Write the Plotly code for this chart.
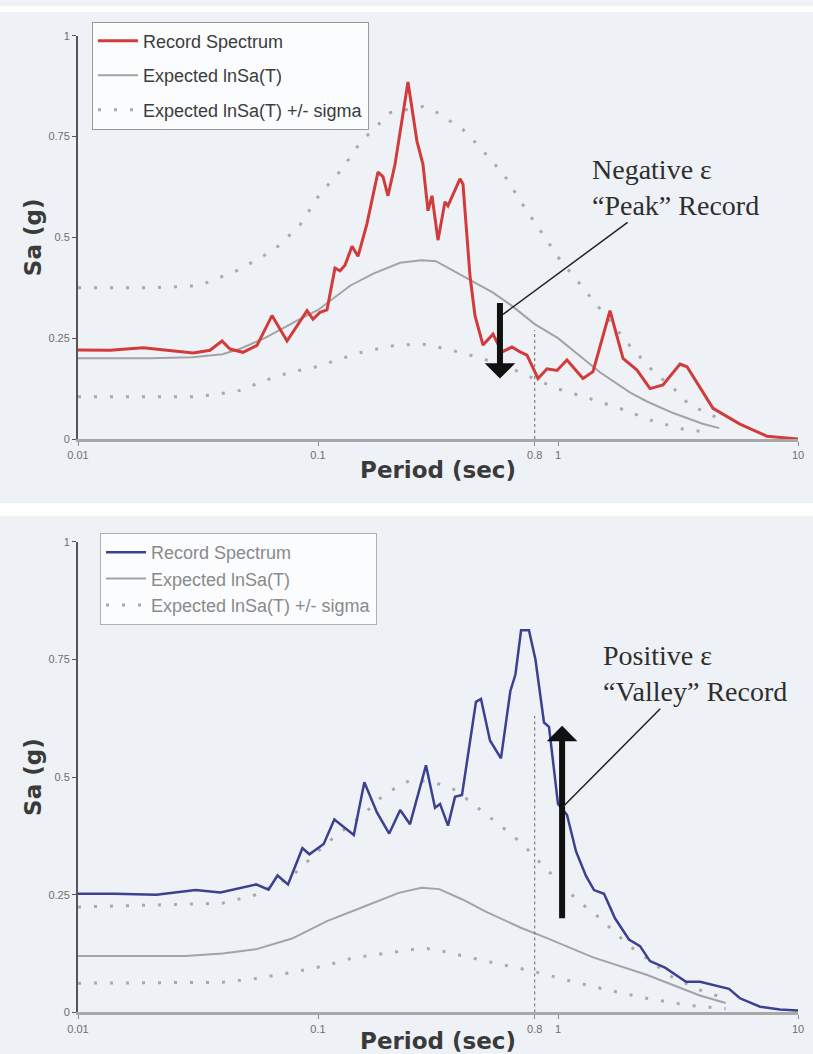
import math
import plotly.graph_objects as go

# ---------------- data ----------------
# Top panel: negative-epsilon "peak" record
top_rec_T = [0.01, 0.0136, 0.0187, 0.0249, 0.0302, 0.0355, 0.0398, 0.043, 0.0487, 0.0557,
             0.0643, 0.0743, 0.09, 0.0953, 0.1019, 0.109, 0.1177, 0.1235, 0.1296, 0.1386,
             0.1468, 0.16, 0.1778, 0.1866, 0.1957, 0.2094, 0.2371, 0.2585, 0.2738, 0.2873,
             0.2985, 0.3162, 0.3382, 0.348, 0.3905, 0.4019, 0.4299, 0.451, 0.487, 0.536,
             0.5843, 0.643, 0.6946, 0.7427, 0.8254, 0.9, 0.9904, 1.09, 1.271, 1.399,
             1.647, 1.866, 2.134, 2.418, 2.738, 3.224, 3.448, 4.424, 5.731, 7.425, 9.532, 10.0]
top_rec_sa = [0.221, 0.220, 0.226, 0.218, 0.213, 0.220, 0.243, 0.223, 0.215, 0.232,
              0.306, 0.243, 0.318, 0.297, 0.314, 0.320, 0.424, 0.417, 0.431, 0.478,
              0.453, 0.534, 0.662, 0.650, 0.603, 0.681, 0.885, 0.738, 0.681, 0.566,
              0.603, 0.493, 0.588, 0.578, 0.645, 0.632, 0.404, 0.306, 0.233, 0.260,
              0.216, 0.228, 0.216, 0.208, 0.150, 0.174, 0.170, 0.196, 0.150, 0.167,
              0.318, 0.200, 0.171, 0.125, 0.134, 0.186, 0.179, 0.076, 0.037, 0.007, 0.001, 0.0]

top_med_T = [0.01, 0.02, 0.03, 0.04, 0.047, 0.06, 0.084, 0.1, 0.136, 0.17, 0.22, 0.27, 0.31,
             0.4, 0.536, 0.643, 0.8, 1.0, 1.36, 1.5, 2.0, 2.35, 3.0, 4.0, 4.7]
top_med_sa = [0.200, 0.200, 0.203, 0.210, 0.223, 0.250, 0.297, 0.320, 0.380, 0.410, 0.437, 0.443, 0.441,
              0.404, 0.363, 0.330, 0.285, 0.250, 0.184, 0.165, 0.115, 0.093, 0.065, 0.038, 0.027]

top_up_T = [0.01, 0.02, 0.032, 0.047, 0.066, 0.084, 0.102, 0.124, 0.15, 0.2, 0.274, 0.312,
            0.402, 0.47, 0.536, 0.6, 0.71, 0.79, 0.9, 1.02, 1.16, 1.32, 1.5, 1.98, 2.5, 3.13,
            3.5, 4.3, 4.7]
top_up_sa = [0.375, 0.375, 0.380, 0.420, 0.470, 0.530, 0.608, 0.664, 0.735, 0.809, 0.824, 0.810,
             0.767, 0.725, 0.686, 0.652, 0.583, 0.542, 0.493, 0.444, 0.404, 0.363, 0.320, 0.233, 0.167, 0.118,
             0.086, 0.060, 0.050]

top_lo_T = [0.01, 0.03, 0.037, 0.047, 0.06, 0.076, 0.1, 0.124, 0.154, 0.213, 0.274, 0.345,
            0.43, 0.536, 0.643, 0.99, 1.36, 1.87, 2.5, 3.3, 4.4]
top_lo_sa = [0.105, 0.105, 0.110, 0.120, 0.145, 0.165, 0.180, 0.199, 0.216, 0.233, 0.235, 0.223,
             0.208, 0.191, 0.174, 0.125, 0.100, 0.073, 0.044, 0.025, 0.015]

# Bottom panel: positive-epsilon "valley" record
bot_rec_T = [0.01, 0.0141, 0.0212, 0.0309, 0.0392, 0.0481, 0.0552, 0.0622, 0.0678, 0.075,
             0.0861, 0.0921, 0.1056, 0.117, 0.141, 0.156, 0.176, 0.198, 0.22, 0.2417,
             0.2818, 0.3073, 0.3225, 0.3481, 0.3723, 0.3981, 0.4552, 0.4776, 0.5208, 0.5786,
             0.6331, 0.6647, 0.7017, 0.7568, 0.8054, 0.8743, 0.9173, 1.0, 1.09, 1.189,
             1.308, 1.413, 1.555, 1.728, 1.976, 2.197, 2.417, 2.792, 3.415, 3.906,
             4.642, 5.158, 5.73, 6.95, 8.4, 10.0]
bot_rec_sa = [0.252, 0.252, 0.250, 0.260, 0.255, 0.265, 0.272, 0.261, 0.291, 0.272,
              0.349, 0.336, 0.358, 0.410, 0.377, 0.489, 0.425, 0.380, 0.430, 0.400,
              0.525, 0.435, 0.443, 0.397, 0.458, 0.462, 0.660, 0.666, 0.578, 0.540,
              0.683, 0.718, 0.812, 0.812, 0.750, 0.616, 0.607, 0.443, 0.420, 0.342,
              0.290, 0.260, 0.252, 0.200, 0.155, 0.141, 0.109, 0.095, 0.065, 0.065,
              0.055, 0.050, 0.030, 0.012, 0.006, 0.004]

bot_med_T = [0.01, 0.028, 0.04, 0.055, 0.078, 0.109, 0.154, 0.217, 0.27, 0.32, 0.4, 0.5,
             0.7, 0.9, 1.4, 2.34, 3.9, 5.0]
bot_med_sa = [0.120, 0.120, 0.125, 0.134, 0.157, 0.194, 0.224, 0.254, 0.265, 0.262, 0.240, 0.214,
              0.180, 0.158, 0.117, 0.080, 0.036, 0.020]

bot_up_T = [0.01, 0.04, 0.055, 0.078, 0.109, 0.154, 0.185, 0.213, 0.244, 0.3, 0.373, 0.425,
            0.487, 0.556, 0.64, 0.72, 0.8, 1.0, 1.21, 1.42, 2.0, 3.0, 4.0, 5.0]
bot_up_sa = [0.224, 0.232, 0.250, 0.290, 0.360, 0.420, 0.459, 0.479, 0.494, 0.490, 0.473, 0.450,
             0.426, 0.401, 0.378, 0.355, 0.330, 0.280, 0.237, 0.210, 0.140, 0.075, 0.045, 0.030]

bot_lo_T = [0.01, 0.04, 0.055, 0.078, 0.109, 0.14, 0.2, 0.265, 0.3, 0.5, 0.78, 1.1, 1.6,
            2.34, 3.5, 5.0]
bot_lo_sa = [0.062, 0.064, 0.072, 0.085, 0.100, 0.116, 0.127, 0.136, 0.135, 0.109, 0.088, 0.068, 0.048,
             0.030, 0.015, 0.008]

# Conditioning period marker (dotted vertical line) and its height in each panel
ref_period = 0.8
top_ref_level = 0.27
bot_ref_level = 0.63

# Epsilon arrows: (period, tip Sa) and leader-line target points
top_arrow_T, top_arrow_tip = 0.573, 0.15
bot_arrow_T, bot_arrow_tip = 1.04, 0.609
top_leader_T, top_leader_sa = 0.59, 0.309
bot_leader_T, bot_leader_sa = 1.049, 0.437

y_tickvals = [0, 0.25, 0.5, 0.75, 1]
y_ticktext = ["0", "0.25", "0.5", "0.75", "1"]
x_tickvals = [0.01, 0.1, 0.8, 1, 10]
x_ticktext = ["0.01", "0.1", "0.8", "1", "10"]

# ---------------- styling ----------------
PANEL = "#eef2f6"
RED = "#d23b3b"
BLUE = "#3c4090"
GRAY = "#a3a3a3"
DOT = "#a9a9a9"
DOTDASH = "3px,13px"

fig = go.Figure()

# top panel traces
fig.add_trace(go.Scatter(x=top_lo_T, y=top_lo_sa, mode="lines", xaxis="x", yaxis="y",
                         line=dict(color=DOT, width=3, dash=DOTDASH), showlegend=False,
                         legendgroup="t3", legendrank=3))
fig.add_trace(go.Scatter(x=top_up_T, y=top_up_sa, mode="lines", xaxis="x", yaxis="y",
                         name="Expected lnSa(T) +/- sigma", legend="legend", legendgroup="t3",
                         legendrank=3, line=dict(color=DOT, width=3, dash=DOTDASH)))
fig.add_trace(go.Scatter(x=top_med_T, y=top_med_sa, mode="lines", xaxis="x", yaxis="y",
                         name="Expected lnSa(T)", legend="legend", legendgroup="t2",
                         legendrank=2, line=dict(color=GRAY, width=2)))
fig.add_trace(go.Scatter(x=[ref_period, ref_period], y=[0, top_ref_level], mode="lines",
                         xaxis="x", yaxis="y", showlegend=False,
                         line=dict(color="#666666", width=1, dash="dot")))
fig.add_trace(go.Scatter(x=top_rec_T, y=top_rec_sa, mode="lines", xaxis="x", yaxis="y",
                         name="Record Spectrum", legend="legend", legendgroup="t1",
                         legendrank=1, line=dict(color=RED, width=3)))

# bottom panel traces
fig.add_trace(go.Scatter(x=bot_lo_T, y=bot_lo_sa, mode="lines", xaxis="x2", yaxis="y2",
                         line=dict(color=DOT, width=3, dash=DOTDASH), showlegend=False,
                         legendgroup="b3", legendrank=3))
fig.add_trace(go.Scatter(x=bot_up_T, y=bot_up_sa, mode="lines", xaxis="x2", yaxis="y2",
                         name="Expected lnSa(T) +/- sigma", legend="legend2", legendgroup="b3",
                         legendrank=3, line=dict(color=DOT, width=3, dash=DOTDASH)))
fig.add_trace(go.Scatter(x=bot_med_T, y=bot_med_sa, mode="lines", xaxis="x2", yaxis="y2",
                         name="Expected lnSa(T)", legend="legend2", legendgroup="b2",
                         legendrank=2, line=dict(color=GRAY, width=2)))
fig.add_trace(go.Scatter(x=[ref_period, ref_period], y=[0, bot_ref_level], mode="lines",
                         xaxis="x2", yaxis="y2", showlegend=False,
                         line=dict(color="#666666", width=1, dash="dot")))
fig.add_trace(go.Scatter(x=bot_rec_T, y=bot_rec_sa, mode="lines", xaxis="x2", yaxis="y2",
                         name="Record Spectrum", legend="legend2", legendgroup="b1",
                         legendrank=1, line=dict(color=BLUE, width=2.5)))

tick_font = dict(family="Liberation Sans, Arial, sans-serif", size=11, color="#6e6e6e")
title_font = dict(family="DejaVu Sans, sans-serif", size=23, color="#3a3a3a")

def xax(anchor):
    return dict(type="log", range=[-2, 1], domain=[0, 1], anchor=anchor,
                showgrid=False, zeroline=False, showline=True, linecolor="#a8a8a8", linewidth=3,
                ticks="outside", ticklen=4, tickcolor="#888888", tickwidth=1,
                tickvals=x_tickvals, ticktext=x_ticktext, tickfont=tick_font,
                title=dict(text="<b>Period (sec)</b>", font=title_font, standoff=2))

def yax(anchor, domain):
    return dict(range=[0, 1], domain=domain, anchor=anchor,
                showgrid=False, zeroline=False, showline=True, linecolor="#555555", linewidth=2,
                ticks="outside", ticklen=4, tickcolor="#555555", tickwidth=1,
                tickvals=y_tickvals, ticktext=y_ticktext, tickfont=tick_font,
                title=dict(text="<b>Sa (g)</b>", font=title_font, standoff=0))

fig.update_layout(
    width=813, height=1054,
    margin=dict(l=78, r=15, t=0, b=0),
    paper_bgcolor=PANEL, plot_bgcolor=PANEL,
    xaxis=xax("y"), yaxis=yax("x", [0.58444, 0.97154]),
    xaxis2=xax("y2"), yaxis2=yax("x2", [0.034156, 0.485769]),
    legend=dict(x=0.0194, y=0.985, xanchor="left", yanchor="top",
                bgcolor="#fbfcfd", bordercolor="#9a9a9a", borderwidth=1,
                font=dict(family="Liberation Sans, Arial, sans-serif", size=18, color="#3c3c3c"),
                tracegroupgap=8, itemwidth=40, traceorder="grouped"),
    legend2=dict(x=0.0306, y=0.4943, xanchor="left", yanchor="top",
                 bgcolor="#fbfcfd", bordercolor="#b0b0b0", borderwidth=1,
                 font=dict(family="Liberation Sans, Arial, sans-serif", size=18, color="#8a8a8a"),
                 tracegroupgap=0, itemwidth=40, traceorder="grouped"),
    showlegend=True,
)

# white separators between the two panels and at the top
fig.add_shape(type="rect", xref="paper", yref="paper", x0=-0.2, x1=1.2, y0=0.5104, y1=0.5228,
              fillcolor="white", line=dict(width=0), layer="below")
fig.add_shape(type="rect", xref="paper", yref="paper", x0=-0.2, x1=1.2, y0=0.9943, y1=1.0,
              fillcolor="white", line=dict(width=0), layer="below")

ann_font = dict(family="Liberation Serif, Times New Roman, serif", size=28, color="#2e2e2e")

# thick epsilon arrows
fig.add_annotation(x=math.log10(top_arrow_T), y=top_arrow_tip, xref="x", yref="y", text="",
                   showarrow=True, arrowhead=1, arrowsize=0.85, arrowwidth=6, arrowcolor="#111111",
                   ax=0, ay=-77)
fig.add_annotation(x=math.log10(bot_arrow_T), y=bot_arrow_tip, xref="x2", yref="y2", text="",
                   showarrow=True, arrowhead=1, arrowsize=0.85, arrowwidth=6, arrowcolor="#111111",
                   ax=0, ay=194)

# labels with leader lines
fig.add_annotation(x=math.log10(top_leader_T), y=top_leader_sa, xref="x", yref="y",
                   text="Negative ε<br>“Peak” Record", align="left", font=ann_font,
                   showarrow=True, arrowhead=0, arrowwidth=1.5, arrowcolor="#222222",
                   ax=172, ay=-127)
fig.add_annotation(x=math.log10(bot_leader_T), y=bot_leader_sa, xref="x2", yref="y2",
                   text="Positive ε<br>“Valley” Record", align="left", font=ann_font,
                   showarrow=True, arrowhead=0, arrowwidth=1.5, arrowcolor="#222222",
                   ax=132, ay=-133)

fig.write_html("out.html")
